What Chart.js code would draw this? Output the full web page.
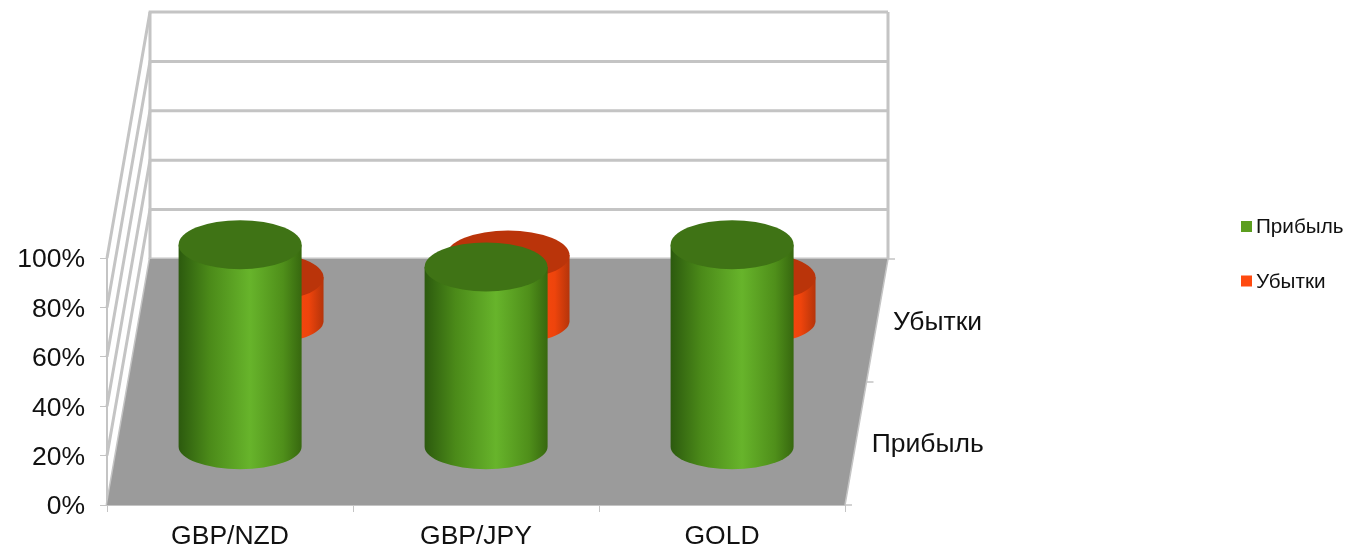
<!DOCTYPE html>
<html lang="ru">
<head>
<meta charset="UTF-8">
<title>Прибыль / Убытки</title>
<script src="https://cdn.jsdelivr.net/npm/chart.js@4/dist/chart.umd.min.js"></script>
<style>
    html, body { margin: 0; padding: 0; background: #fff; }
    canvas { display: block; }
</style>
</head>
<body>
<canvas id="myChart" width="1349" height="552"></canvas>
<script>
const categories = ['GBP/NZD', 'GBP/JPY', 'GOLD'];
const profit = [82, 73, 82];
const losses = [18, 27, 18];
const profitName = 'Прибыль';
const lossName = 'Убытки';

const FONT = '"Liberation Sans", Arial, sans-serif';
const LINE = '#c4c4c4';

// 3d look: how far the back wall is from the front plane
const DEPTH_X = 43;
const DEPTH_Y = 246;
const RY = 24.5; // ellipse height of the cylinders
const RY_BASE = 22.5;

// per dataset: where on the floor it stands + colours
const looks = [
    { depth: 0.235, axisDepth: 0.25, top: '#3f7315', flat: '#5c9e1f',
      stops: [[0, '#2c5a0e'], [0.25, '#4b8a19'], [0.58, '#67b42b'], [0.85, '#4f8f1a'], [1, '#37680f']] },
    { depth: 0.745, axisDepth: 0.745, top: '#ba340a', flat: '#ff4a10',
      stops: [[0, '#a82c06'], [0.3, '#e8430c'], [0.65, '#ff4c10'], [0.88, '#ee440c'], [1, '#b5340a']] }
];

function drawRoom(ctx, chart) {
    const a = chart.chartArea;
    const yScale = chart.scales.y;

    // back wall
    ctx.strokeStyle = LINE;
    ctx.lineWidth = 3;
    yScale.ticks.forEach(function(t) {
        const y = yScale.getPixelForValue(t.value);
        ctx.beginPath();
        ctx.moveTo(a.left, y);                          // left wall
        ctx.lineTo(a.left + DEPTH_X, y - DEPTH_Y);
        ctx.lineTo(a.right + DEPTH_X, y - DEPTH_Y);     // back wall
        ctx.stroke();
    });
    ctx.beginPath();
    ctx.moveTo(a.left + DEPTH_X, a.top - DEPTH_Y);
    ctx.lineTo(a.left + DEPTH_X, a.bottom - DEPTH_Y);
    ctx.moveTo(a.right + DEPTH_X, a.top - DEPTH_Y);
    ctx.lineTo(a.right + DEPTH_X, a.bottom - DEPTH_Y);
    ctx.stroke();

    // floor
    ctx.fillStyle = '#9b9b9b';
    ctx.beginPath();
    ctx.moveTo(a.left, a.bottom);
    ctx.lineTo(a.right, a.bottom);
    ctx.lineTo(a.right + DEPTH_X, a.bottom - DEPTH_Y);
    ctx.lineTo(a.left + DEPTH_X, a.bottom - DEPTH_Y);
    ctx.closePath();
    ctx.fill();

    // depth axis on the right
    ctx.lineWidth = 1.5;
    ctx.beginPath();
    ctx.moveTo(a.right, a.bottom);
    ctx.lineTo(a.right + DEPTH_X, a.bottom - DEPTH_Y);
    [0, 0.5, 1].forEach(function(f) {
        const x = a.right + DEPTH_X * f;
        const y = a.bottom - DEPTH_Y * f;
        ctx.moveTo(x, y);
        ctx.lineTo(x + 7, y);
    });
    ctx.stroke();

    // series names next to the depth axis
    ctx.fillStyle = '#111';
    ctx.font = '26.5px ' + FONT;
    ctx.textAlign = 'left';
    ctx.textBaseline = 'middle';
    chart.data.datasets.forEach(function(ds, i) {
        const f = looks[i].axisDepth;
        ctx.fillText(ds.label, a.right + DEPTH_X * f + 16, a.bottom - DEPTH_Y * f + 1);
    });
}

function drawCylinder(ctx, bar, look) {
    const cx = bar.x + DEPTH_X * look.depth;
    const rx = bar.width / 2;
    const topY = bar.y - DEPTH_Y * look.depth;
    const baseY = bar.base - DEPTH_Y * look.depth;

    const grad = ctx.createLinearGradient(cx - rx, 0, cx + rx, 0);
    look.stops.forEach(function(s) { grad.addColorStop(s[0], s[1]); });
    ctx.fillStyle = grad;
    ctx.beginPath();
    ctx.moveTo(cx - rx, topY);
    ctx.lineTo(cx - rx, baseY);
    ctx.ellipse(cx, baseY, rx, RY_BASE, 0, Math.PI, 0, true);
    ctx.lineTo(cx + rx, topY);
    ctx.closePath();
    ctx.fill();

    ctx.fillStyle = look.top;
    ctx.beginPath();
    ctx.ellipse(cx, topY, rx, RY, 0, 0, Math.PI * 2);
    ctx.fill();
}

const cylinders = {
    id: 'cylinders',
    beforeDatasetsDraw: function(chart) {
        const ctx = chart.ctx;
        ctx.save();
        drawRoom(ctx, chart);
        ctx.restore();
    },
    // swap the flat bars for cylinders, red one is drawn first
    beforeDatasetDraw: function(chart, args) {
        const ctx = chart.ctx;
        ctx.save();
        args.meta.data.forEach(function(bar) {
            drawCylinder(ctx, bar, looks[args.index]);
        });
        ctx.restore();
        return false;
    },
    afterDraw: function(chart) {
        // legend far away from the plot
        const ctx = chart.ctx;
        const rows = [226.5, 281];
        ctx.save();
        ctx.font = '20.7px ' + FONT;
        ctx.textAlign = 'left';
        ctx.textBaseline = 'middle';
        chart.data.datasets.forEach(function(ds, i) {
            ctx.fillStyle = ds.backgroundColor;
            ctx.fillRect(1241, rows[i] - 5.5, 11, 11);
            ctx.fillStyle = '#111';
            ctx.fillText(ds.label, 1256, rows[i] + 1);
        });
        ctx.restore();
    }
};

const myChart = new Chart(document.getElementById('myChart').getContext('2d'), {
    type: 'bar',
    data: {
        labels: categories,
        datasets: [
            { label: profitName, data: profit, backgroundColor: looks[0].flat },
            { label: lossName, data: losses, backgroundColor: looks[1].flat }
        ]
    },
    options: {
        responsive: false,
        animation: false,
        grouped: false,
        categoryPercentage: 1,
        barPercentage: 0.5,
        layout: { padding: { top: 258, right: 504, bottom: 0, left: 0 } },
        plugins: { legend: { display: false }, tooltip: { enabled: false } },
        scales: {
            x: {
                afterFit: function(scale) { scale.height = 47; },
                border: { color: LINE, width: 2 },
                grid: { drawOnChartArea: false, color: LINE, tickLength: 7 },
                ticks: { color: '#111', padding: 9, font: { family: FONT, size: 26.5 } }
            },
            y: {
                min: 0,
                max: 100,
                afterFit: function(scale) { scale.width = 107; },
                border: { color: LINE, width: 2 },
                grid: { drawOnChartArea: false, color: LINE, tickLength: 7 },
                ticks: {
                    stepSize: 20,
                    color: '#111',
                    padding: 15,
                    labelOffset: 2,
                    font: { family: FONT, size: 26.5 },
                    callback: function(v) { return v + '%'; }
                }
            }
        }
    },
    plugins: [cylinders]
});
</script>
</body>
</html>
